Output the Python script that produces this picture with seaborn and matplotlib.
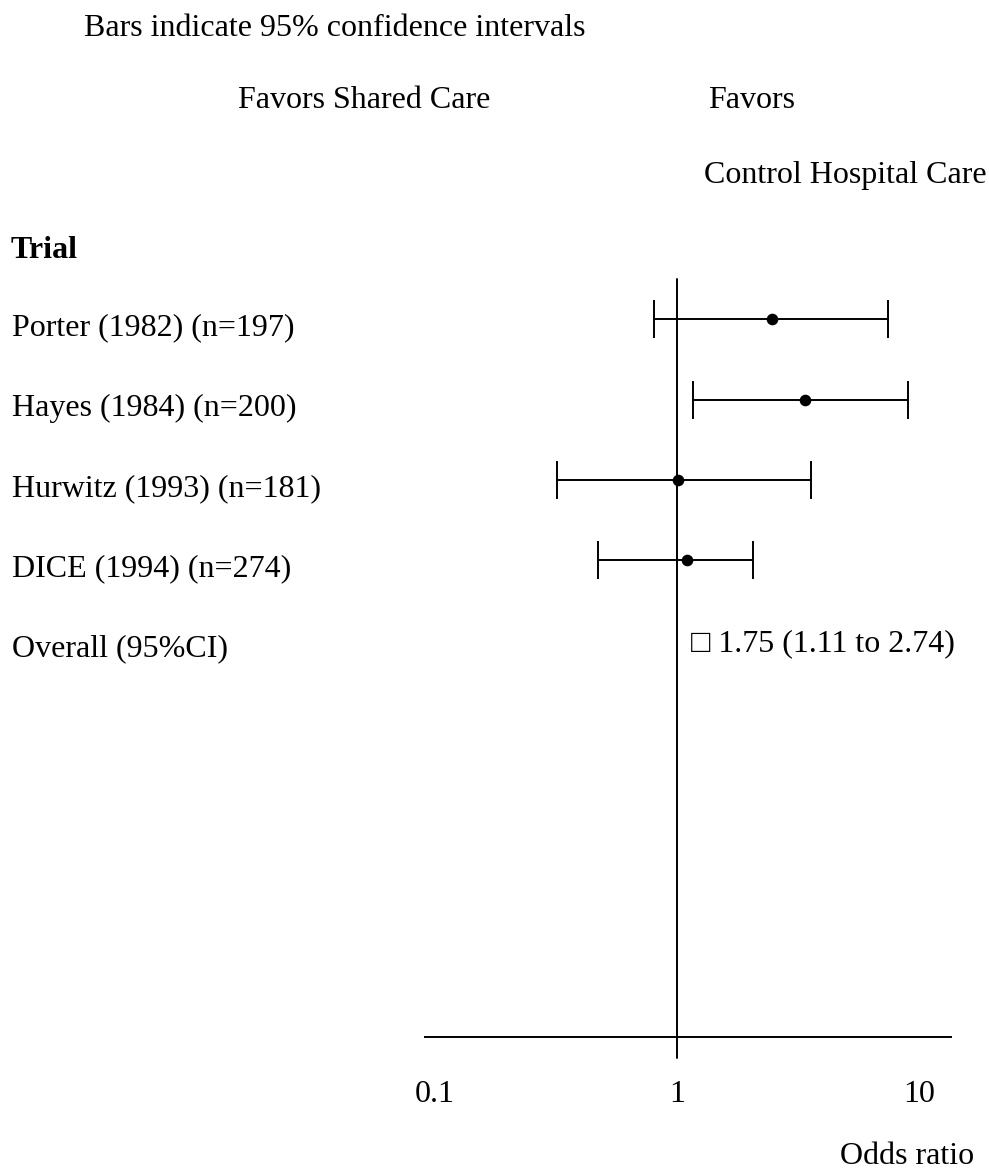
import matplotlib
matplotlib.use("Agg")
import matplotlib.pyplot as plt
import matplotlib.transforms as mtransforms
import seaborn as sns
import pandas as pd

# Data
trials = ["Porter (1982) (n=197)", "Hayes (1984) (n=200)",
          "Hurwitz (1993) (n=181)", "DICE (1994) (n=274)"]
odds = [2.47, 3.38, 1.01, 1.10]
ci_low = [0.80, 1.16, 0.32, 0.47]
ci_high = [7.45, 9.00, 3.58, 2.06]
overall_label = "Overall (95%CI)"
overall_text = "\u25a1 1.75 (1.11 to 2.74)"
tick_vals = [0.1, 1, 10]
tick_labels = ["0.1", "1", "10"]

df = pd.DataFrame({"trial": trials, "odds": odds, "lo": ci_low, "hi": ci_high})
df["row"] = range(len(df))

sns.set_theme(style="white")
plt.rcParams["font.family"] = ["Liberation Serif", "DejaVu Sans"]
plt.rcParams["text.color"] = "black"
plt.rcParams["xtick.color"] = "black"
plt.rcParams["ytick.color"] = "black"
FS = 23

fig = plt.figure(figsize=(9.89, 11.75), dpi=100)
ax = fig.add_axes([0.4297, 0.1174, 0.5319, 0.6451])

# confidence intervals
ax.errorbar(df["odds"], df["row"],
            xerr=[df["odds"] - df["lo"], df["hi"] - df["odds"]],
            fmt="none", ecolor="black", elinewidth=1.4, capsize=14, capthick=1.4)
sns.scatterplot(data=df, x="odds", y="row", color="black", s=70,
                edgecolor="black", linewidth=0, ax=ax, zorder=3)

# line of no effect
ax.axvline(1, ymin=-0.028, ymax=1, color="black", lw=1.4, clip_on=False)

ax.set_xscale("log")
ax.set_xlim(0.0909, 13.56)
ax.set_ylim(8.94, -0.5)

rows = list(df["row"]) + [len(df)]
ax.set_yticks(rows, trials + [overall_label])
ax.tick_params(axis="y", length=0, pad=297, labelsize=FS)
shift = mtransforms.ScaledTranslation(0, -5 / 100, fig.dpi_scale_trans)
for lab in ax.get_yticklabels():
    lab.set_horizontalalignment("left")
    lab.set_verticalalignment("center_baseline")
    lab.set_transform(lab.get_transform() + shift)

ax.set_xticks(tick_vals, tick_labels)
ax.minorticks_off()
ax.tick_params(axis="x", length=0, pad=31, labelsize=FS)

for s in ["top", "right", "left"]:
    ax.spines[s].set_visible(False)
ax.spines["bottom"].set_color("black")
ax.spines["bottom"].set_linewidth(1.4)

ax.annotate(overall_text, xy=(1, len(df)), xytext=(10, 0),
            textcoords="offset points", ha="left", va="center_baseline",
            fontsize=FS)

ax.set_xlabel("")
ax.set_ylabel("")

# header texts
fig.text(84 / 989, 1 - 28 / 1175, "Bars indicate 95% confidence intervals",
         ha="left", va="center", fontsize=FS)
fig.text(238 / 989, 1 - 101 / 1175, "Favors Shared Care",
         ha="left", va="center", fontsize=FS)
fig.text(708 / 989, 1 - 101 / 1175, "Favors",
         ha="left", va="center", fontsize=FS)
fig.text(704 / 989, 1 - 175 / 1175, "Control Hospital Care",
         ha="left", va="center", fontsize=FS)
fig.text(11 / 989, 1 - 251 / 1175, "Trial",
         ha="left", va="center", fontsize=FS, fontweight="bold")
fig.text(840 / 989, 1 - 1156 / 1175, "Odds ratio",
         ha="left", va="center", fontsize=FS)

fig.savefig("out.png", dpi=100, facecolor="white")
